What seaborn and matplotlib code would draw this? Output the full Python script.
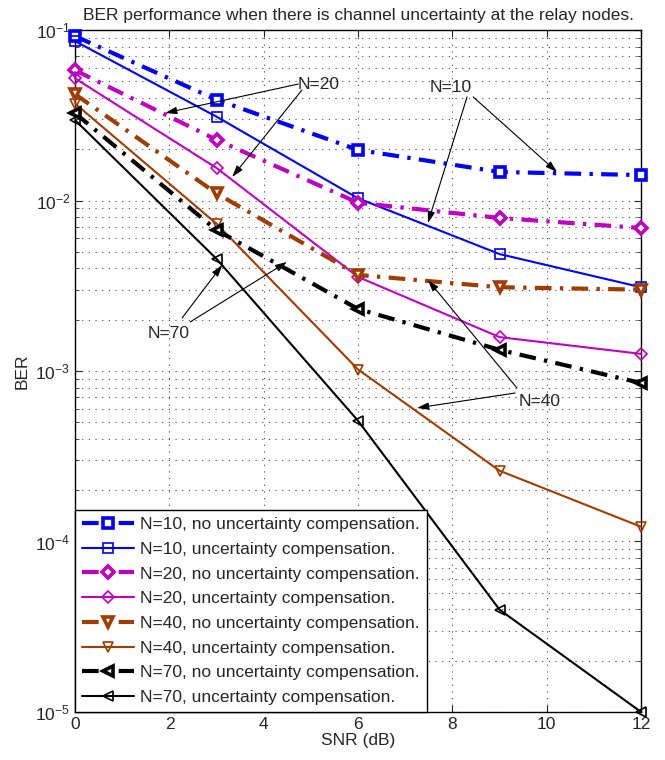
import numpy as np
import pandas as pd
import matplotlib
matplotlib.use("Agg")
import matplotlib.pyplot as plt
from matplotlib.ticker import LogLocator, NullFormatter, MultipleLocator
import seaborn as sns

snr = [0, 3, 6, 9, 12]

ber_n10_nocomp = [0.092, 0.039, 0.0198, 0.0147, 0.0141]
ber_n10_comp = [0.086, 0.031, 0.0103, 0.00485, 0.0031]
ber_n20_nocomp = [0.058, 0.0227, 0.0097, 0.0079, 0.0069]
ber_n20_comp = [0.052, 0.0155, 0.00356, 0.00158, 0.00126]
ber_n40_nocomp = [0.042, 0.011, 0.00366, 0.0031, 0.0030]
ber_n40_comp = [0.037, 0.0073, 0.00102, 0.00026, 0.000122]
ber_n70_nocomp = [0.0325, 0.0067, 0.00231, 0.00133, 0.00085]
ber_n70_comp = [0.0296, 0.00454, 0.00051, 0.0000398, 0.00001]

labels = [
    "N=10, no uncertainty compensation.",
    "N=10, uncertainty compensation.",
    "N=20, no uncertainty compensation.",
    "N=20, uncertainty compensation.",
    "N=40, no uncertainty compensation.",
    "N=40, uncertainty compensation.",
    "N=70, no uncertainty compensation.",
    "N=70, uncertainty compensation.",
]
series = [ber_n10_nocomp, ber_n10_comp, ber_n20_nocomp, ber_n20_comp,
          ber_n40_nocomp, ber_n40_comp, ber_n70_nocomp, ber_n70_comp]
colors = ["#0000ff", "#0000ff", "#bf00bf", "#bf00bf",
          "#a03c00", "#a03c00", "#000000", "#000000"]
markers = ["s", "s", "D", "D", "v", "v", "<", "<"]

sns.set_style("ticks")
plt.rcParams["font.family"] = ["Liberation Sans", "DejaVu Sans"]
FS = 12.5

fig = plt.figure(figsize=(6.65, 7.6), dpi=100)
ax = fig.add_axes([0.113, 0.0632, 0.851, 0.8973])

for i, (lab, ber) in enumerate(zip(labels, series)):
    df = pd.DataFrame({"SNR": snr, "BER": ber})
    if i % 2 == 0:
        sns.lineplot(data=df, x="SNR", y="BER", ax=ax, color=colors[i],
                     label=lab, lw=3.0, marker=markers[i], ms=6.5,
                     mfc="white", mec=colors[i], mew=2.6, zorder=3, clip_on=False)
        ax.lines[-1].set_dashes([4, 2, 0.8, 2])
    else:
        sns.lineplot(data=df, x="SNR", y="BER", ax=ax, color=colors[i],
                     label=lab, lw=1.5, marker=markers[i], ms=6.5,
                     mfc="none", mec=colors[i], mew=1.2, zorder=3, clip_on=False)

ax.set_yscale("log")
ax.set_xlim(0, 12)
ax.set_ylim(1e-5, 1e-1)
ax.xaxis.set_major_locator(MultipleLocator(2))
ax.yaxis.set_major_locator(LogLocator(base=10, numticks=10))
ax.yaxis.set_minor_locator(LogLocator(base=10, subs=np.arange(2, 10), numticks=20))
ax.yaxis.set_minor_formatter(NullFormatter())
ax.grid(True, which="major", ls=(0, (1, 5)), color="#444444", lw=0.8)
ax.grid(True, which="minor", axis="y", ls=(0, (1, 5)), color="#444444", lw=0.8)
ax.tick_params(direction="in", which="both", top=True, right=True, labelsize=FS)
ax.tick_params(which="major", length=5)
ax.tick_params(which="minor", length=3)
for s in ax.spines.values():
    s.set_color("black")
    s.set_linewidth(1.0)

ax.set_xlabel("SNR (dB)", fontsize=FS, labelpad=1)
ax.set_ylabel("BER", fontsize=FS, labelpad=4)
ax.set_title("BER performance when there is channel uncertainty at the relay nodes.",
             fontsize=FS, pad=7)

arrow = dict(arrowstyle="-|>,head_length=0.7,head_width=0.22", color="black",
             lw=0.8, shrinkA=0, shrinkB=0)
notes = [
    ("N=20", (5.17, 0.0476), [((4.73, 0.0482), (1.91, 0.0326)),
                              ((4.81, 0.0445), (3.33, 0.01374))]),
    ("N=10", (7.97, 0.0457), [((8.31, 0.0405), (7.48, 0.00738)),
                              ((8.44, 0.0405), (10.22, 0.01468))]),
    ("N=70", (1.99, 0.00167), [((2.27, 0.00205), (3.12, 0.00419)),
                               ((2.44, 0.00194), (4.49, 0.00436))]),
    ("N=40", (9.84, 0.000658), [((9.37, 0.000794), (7.48, 0.00342)),
                                ((9.33, 0.000743), (7.25, 0.000607))]),
]
for txt, pos, arrows in notes:
    ax.text(pos[0], pos[1], txt, ha="center", va="center", fontsize=FS, zorder=5)
    for tail, head in arrows:
        ax.annotate("", xy=head, xytext=tail, arrowprops=arrow, zorder=5)

leg = ax.legend(loc="lower left", borderaxespad=0, fontsize=FS, handlelength=3.0,
                labelspacing=0.55, fancybox=False, framealpha=1, edgecolor="black",
                borderpad=0.4, handletextpad=0.35)
leg.get_frame().set_linewidth(1.0)
leg.set_zorder(10)

fig.savefig("out.png", dpi=100)
